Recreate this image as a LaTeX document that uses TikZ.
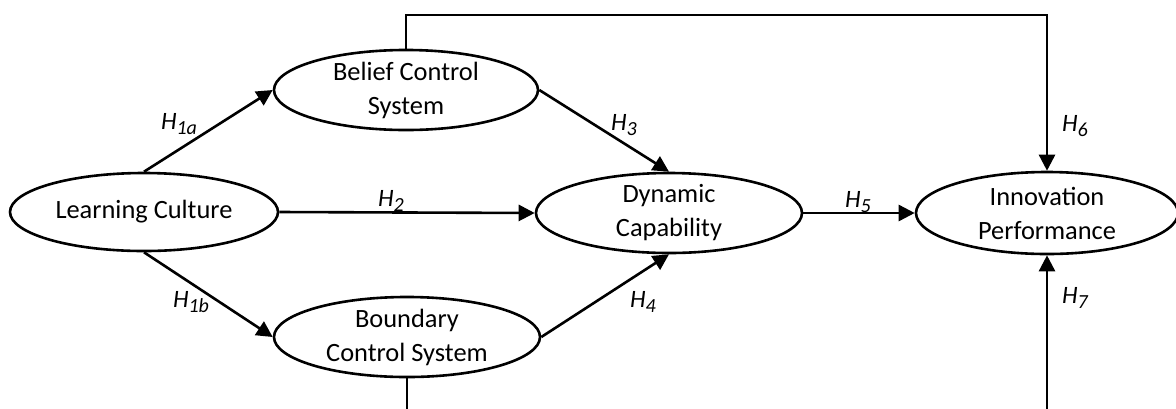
\documentclass[tikz,border=0pt]{standalone}
\usepackage{fontspec}
\setmainfont{Carlito}
\usetikzlibrary{shapes.geometric,arrows.meta}
% hypothesis label: italic H with a lowered index
\newcommand{\hlab}[1]{H\raisebox{-0.45ex}{\fontsize{10}{10}\selectfont #1}}
\tikzset{
  construct/.style={draw, ellipse, line width=1.3pt, inner sep=0pt, align=center,
    font=\fontsize{13.2}{17}\selectfont},
  link/.style={line width=1.3pt, -{Triangle[length=8pt,width=8pt]}},
  hyp/.style={font=\fontsize{12.5}{14}\selectfont\itshape, inner sep=0pt}
}
\begin{document}
\begin{tikzpicture}[x=0.5pt,y=-0.5pt]
  \useasboundingbox (0,0) rectangle (1176,408);
  % constructs
  \node[construct, minimum width=134pt, minimum height=39pt] (lc) at (144,212) {Learning Culture};
  \node[construct, minimum width=132pt, minimum height=40pt] (bcs) at (406,90) {Belief Control\\System};
  \node[construct, minimum width=133pt, minimum height=40pt] (bnd) at (407,337) {Boundary\\Control System};
  \node[construct, minimum width=133pt, minimum height=40pt] (dc) at (669,213) {Dynamic\\Capability};
  \node[construct, minimum width=131pt, minimum height=41pt] (ip) at (1047,213) {Innovation\\Performance};
  % hypothesised paths
  \draw[link] (lc.north) -- (bcs.west);
  \draw[link] (lc.south) -- (bnd.west);
  \draw[link] (lc.east) -- (dc.west);
  \draw[link] (bcs.east) -- (dc.north);
  \draw[link] (bnd.east) -- (dc.south);
  \draw[link] (dc.east) -- (ip.west);
  \coordinate (topy) at (0,15);
  \coordinate (boty) at (0,450);
  \draw[link] (bcs.north) -- (bcs.north |- topy) -| (ip.north);
  \draw[link] (bnd.south) -- (bnd.south |- boty) -| (ip.south);
  % path labels
  \node[hyp] (h1a) at (179,124) {\hlab{1a}};
  \node[hyp] (h1b) at (191,302) {\hlab{1b}};
  \node[hyp] (h2) at (391,201) {\hlab{2}};
  \node[hyp] (h3) at (624,125) {\hlab{3}};
  \node[hyp] (h4) at (643,302) {\hlab{4}};
  \node[hyp] (h5) at (858,202) {\hlab{5}};
  \node[hyp] (h6) at (1075,126) {\hlab{6}};
  \node[hyp] (h7) at (1075,298) {\hlab{7}};
\end{tikzpicture}
\end{document}
